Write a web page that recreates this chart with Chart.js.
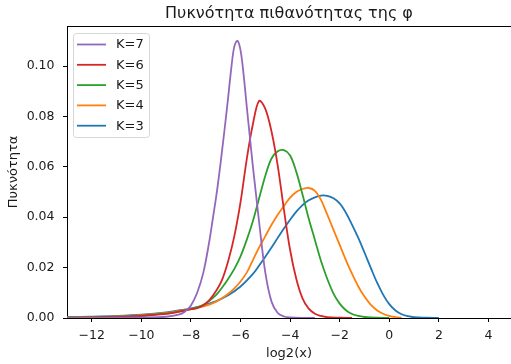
<!DOCTYPE html>
<html lang="el">
<head>
  <meta charset="UTF-8">
  <title>Πυκνότητα πιθανότητας της φ</title>
  <script src="https://cdn.jsdelivr.net/npm/chart.js"></script>
  <style>
    html, body { margin: 0; padding: 0; background: #fff; }
    #wrap { position: relative; width: 511px; height: 364px; }
  </style>
</head>
<body>
  <div id="wrap"><canvas id="densityChart"></canvas></div>

  <script>
    // tick labels
    const xTicks = [-12, -10, -8, -6, -4, -2, 0, 2, 4];
    const yTicks = [0, 0.02, 0.04, 0.06, 0.08, 0.10];

    // series (x = log2(x), y = density)
    const seriesLabels = ['K=7', 'K=6', 'K=5', 'K=4', 'K=3'];
    const seriesColors = ['#9467bd', '#d62728', '#2ca02c', '#ff7f0e', '#1f77b4'];

    const xK7 = [-13, -12, -11, -10, -9, -8.5, -8.25, -8, -7.75, -7.5, -7.25, -7.125, -7, -6.875, -6.75, -6.625, -6.5, -6.375, -6.25, -6.125, -6, -5.875, -5.75, -5.625, -5.5, -5.375, -5.25, -5, -4.75, -4.5, -4.25, -4, -3.5, -3];
    const yK7 = [0, 0, 0.0001, 0.0002, 0.0005, 0.0013, 0.0025, 0.005, 0.010, 0.018, 0.031, 0.039, 0.047, 0.056, 0.066, 0.0765, 0.0875, 0.099, 0.1078, 0.1100, 0.1062, 0.0965, 0.084, 0.072, 0.060, 0.049, 0.038, 0.018, 0.0065, 0.002, 0.0006, 0.0002, 0, 0];

    const xK6 = [-13, -12, -11, -10, -9, -8.5, -8, -7.75, -7.5, -7.25, -7, -6.75, -6.5, -6.25, -6, -5.75, -5.5, -5.25, -5, -4.75, -4.5, -4.25, -4, -3.75, -3.5, -3.25, -3, -2.75, -2.5, -2, -1.5];
    const yK6 = [0.0001, 0.0002, 0.0004, 0.0008, 0.0016, 0.0024, 0.0035, 0.0039, 0.0051, 0.0072, 0.0105, 0.015, 0.0225, 0.0325, 0.046, 0.063, 0.077, 0.0862, 0.083, 0.074, 0.0605, 0.043, 0.027, 0.0155, 0.0078, 0.0037, 0.0017, 0.0008, 0.0003, 0.0001, 0];

    const xK5 = [-13, -12, -11, -10, -9, -8.5, -8, -7.5, -7, -6.75, -6.5, -6.25, -6, -5.75, -5.5, -5.25, -5, -4.75, -4.5, -4.25, -4, -3.75, -3.5, -3.25, -3, -2.75, -2.5, -2.25, -2, -1.75, -1.5, -1.25, -1, -0.5, 0];
    const yK5 = [0.0002, 0.0003, 0.0005, 0.0009, 0.0018, 0.0026, 0.0035, 0.0052, 0.009, 0.012, 0.0155, 0.0195, 0.0245, 0.031, 0.0385, 0.0475, 0.0565, 0.0633, 0.0662, 0.0666, 0.0645, 0.058, 0.049, 0.0395, 0.031, 0.0225, 0.0155, 0.0097, 0.0057, 0.0031, 0.0016, 0.0008, 0.0004, 0.0001, 0];

    const xK4 = [-13, -12, -11, -10, -9, -8.5, -8, -7.5, -7, -6.5, -6.25, -6, -5.75, -5.5, -5.25, -5, -4.75, -4.5, -4.25, -4, -3.75, -3.5, -3.25, -3, -2.75, -2.5, -2.25, -2, -1.75, -1.5, -1.25, -1, -0.75, -0.5, -0.25, 0, 0.25, 0.5];
    const yK4 = [0.0002, 0.0004, 0.0006, 0.0011, 0.002, 0.0028, 0.0035, 0.0046, 0.0064, 0.0096, 0.0118, 0.0145, 0.018, 0.023, 0.028, 0.0325, 0.037, 0.041, 0.0445, 0.0478, 0.0500, 0.0512, 0.0516, 0.0505, 0.0468, 0.041, 0.035, 0.029, 0.023, 0.0175, 0.0125, 0.0085, 0.0053, 0.0031, 0.0017, 0.0008, 0.0003, 0.0001];

    const xK3 = [-13, -12, -11, -10, -9, -8.5, -8, -7.5, -7, -6.5, -6, -5.5, -5.25, -5, -4.75, -4.5, -4.25, -4, -3.75, -3.5, -3.25, -3, -2.75, -2.5, -2.25, -2, -1.75, -1.5, -1.25, -1, -0.75, -0.5, -0.25, 0, 0.25, 0.5, 0.75, 1, 1.5, 2];
    const yK3 = [0.0003, 0.0005, 0.0008, 0.0013, 0.0022, 0.003, 0.0038, 0.005, 0.0066, 0.009, 0.0125, 0.0175, 0.0208, 0.0243, 0.028, 0.0318, 0.0355, 0.039, 0.0422, 0.0448, 0.0467, 0.0479, 0.0486, 0.0485, 0.0475, 0.0455, 0.0418, 0.037, 0.0318, 0.026, 0.020, 0.0142, 0.0093, 0.0055, 0.003, 0.0015, 0.0007, 0.0003, 0.0001, 0];

    const seriesX = [xK7, xK6, xK5, xK4, xK3];
    const seriesY = [yK7, yK6, yK5, yK4, yK3];

    const textColor = '#1a1a1a';
    const font = 'DejaVu Sans';

    // top spine + matplotlib style legend box inside the axes
    const axesFrame = {
      id: 'axesFrame',
      afterDraw(chart) {
        const { ctx, chartArea: a } = chart;
        ctx.save();
        ctx.strokeStyle = '#000';
        ctx.lineWidth = 1;
        ctx.beginPath();
        ctx.moveTo(a.left, a.top + 0.5);
        ctx.lineTo(a.right, a.top + 0.5);
        ctx.stroke();

        // legend
        const x0 = a.left + 6.5, y0 = a.top + 7.5;
        const rowH = 20.3, w = 76, h = 104;
        ctx.fillStyle = 'rgba(255,255,255,0.8)';
        ctx.strokeStyle = '#d6d6d6';
        ctx.beginPath();
        ctx.roundRect(x0, y0, w, h, 3);
        ctx.fill();
        ctx.stroke();
        ctx.font = '13px "' + font + '"';
        ctx.textBaseline = 'middle';
        chart.data.datasets.forEach((ds, i) => {
          const cy = y0 + 11 + i * rowH;
          ctx.strokeStyle = ds.borderColor;
          ctx.lineWidth = 1.8;
          ctx.beginPath();
          ctx.moveTo(x0 + 3.5, cy);
          ctx.lineTo(x0 + 32.5, cy);
          ctx.stroke();
          ctx.fillStyle = textColor;
          ctx.fillText(ds.label, x0 + 42.5, cy + 0.5);
        });
        ctx.restore();
      }
    };

    const datasets = seriesLabels.map((label, i) => ({
      label: label,
      data: seriesX[i].map((x, j) => ({ x: x, y: seriesY[i][j] })),
      borderColor: seriesColors[i],
      backgroundColor: seriesColors[i],
      borderWidth: 1.8,
      pointRadius: 0,
      tension: 0.35,
      fill: false
    }));

    const ctx = document.getElementById('densityChart').getContext('2d');
    new Chart(ctx, {
      type: 'line',
      data: { datasets: datasets },
      options: {
        responsive: true,
        maintainAspectRatio: false,
        animation: false,
        layout: { padding: 0 },
        plugins: {
          legend: { display: false },
          tooltip: { enabled: false },
          title: {
            display: true,
            fullSize: false,
            text: 'Πυκνότητα πιθανότητας της φ',
            color: textColor,
            font: { family: font, size: 16, weight: 'normal' },
            padding: { top: 4, bottom: 2.8 }
          }
        },
        scales: {
          x: {
            type: 'linear',
            min: -13,
            max: 4.91,
            afterBuildTicks: (scale) => { scale.ticks = xTicks.map(v => ({ value: v })); },
            afterFit: (scale) => { scale.height = 46; },
            grid: { drawOnChartArea: false, drawTicks: true, tickLength: 4, color: '#000' },
            border: { color: '#000', width: 1 },
            ticks: {
              color: textColor,
              font: { family: font, size: 12.5 },
              padding: 6,
              maxRotation: 0,
              callback: (v) => (v < 0 ? '\u2212' + Math.abs(v) : String(v))
            },
            title: {
              display: true,
              text: 'log2(x)',
              color: textColor,
              font: { family: font, size: 13 },
              padding: { top: 0, bottom: 3 }
            }
          },
          y: {
            type: 'linear',
            min: 0,
            max: 0.1159,
            afterBuildTicks: (scale) => { scale.ticks = yTicks.map(v => ({ value: v })); },
            afterFit: (scale) => { scale.width = 67; },
            grid: { drawOnChartArea: false, drawTicks: true, tickLength: 4, color: '#000' },
            border: { color: '#000', width: 1 },
            ticks: {
              color: textColor,
              font: { family: font, size: 12.5 },
              padding: 8.5,
              callback: (v) => v.toFixed(2)
            },
            title: {
              display: true,
              text: 'Πυκνότητα',
              color: textColor,
              font: { family: font, size: 13 },
              padding: { top: 6, bottom: 0 }
            }
          }
        }
      },
      plugins: [axesFrame]
    });
  </script>
</body>
</html>
